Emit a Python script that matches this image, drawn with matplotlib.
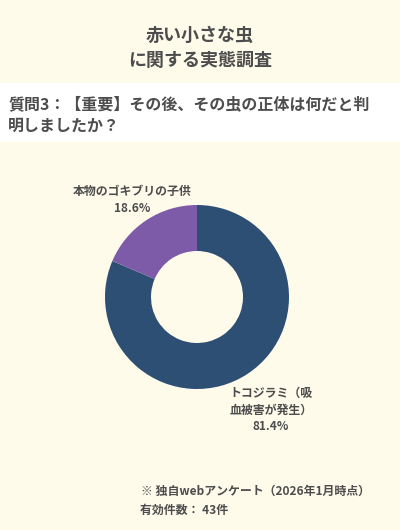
import matplotlib.pyplot as plt
from matplotlib.patches import Rectangle

plt.rcParams['font.family'] = ['Noto Sans CJK JP', 'DejaVu Sans']

# data
labels = ['トコジラミ（吸\n血被害が発生）', '本物のゴキブリの子供']
values = [81.4, 18.6]
colors = ['#2d4f74', '#7d5ba8']

title = '赤い小さな虫\nに関する実態調査'
question = '質問3：【重要】その後、その虫の正体は何だと判\n明しましたか？'
note1 = '※ 独自webアンケート（2026年1月時点）'
note2 = '有効件数： 43件'

bg = '#fefbeb'
txt = '#4d4d4d'

fig = plt.figure(figsize=(4, 5.3), dpi=100)
fig.patch.set_facecolor(bg)

W, H = 400, 530
def fx(x): return x / W
def fy(y): return 1 - y / H

fig.text(0.5, fy(48), title, ha='center', va='center', fontsize=13,
         fontweight='bold', color=txt, linespacing=1.45)

fig.patches.append(Rectangle((0, fy(142)), 1, (142 - 83) / H,
                             transform=fig.transFigure, facecolor='white',
                             edgecolor='none', zorder=0))
fig.text(fx(8), fy(115), question, ha='left', va='center', fontsize=11.5,
         fontweight='bold', color=txt, linespacing=1.5)

# donut: center (197, 297), outer radius 92
r = 92
ax = fig.add_axes([fx(197 - r), fy(297 + r), 2 * r / W, 2 * r / H])
ax.pie(values, colors=colors, startangle=90, counterclock=False,
       wedgeprops=dict(width=0.5, edgecolor='none'))
ax.set_aspect('equal')
ax.set_xlim(-1, 1)
ax.set_ylim(-1, 1)

fig.text(fx(132), fy(200), f'{labels[1]}\n{values[1]}%', ha='center',
         va='center', fontsize=8.6, fontweight='bold', color=txt,
         linespacing=1.4)
fig.text(fx(271), fy(410), f'{labels[0]}\n{values[0]}%', ha='center',
         va='center', fontsize=8.6, fontweight='bold', color=txt,
         linespacing=1.4)

fig.text(fx(141), fy(491), note1, ha='left', va='center', fontsize=8.6,
         fontweight='bold', color=txt)
fig.text(fx(140), fy(510), note2, ha='left', va='center', fontsize=8.6,
         fontweight='bold', color=txt)

fig.savefig('out.png', dpi=100, facecolor=bg)
